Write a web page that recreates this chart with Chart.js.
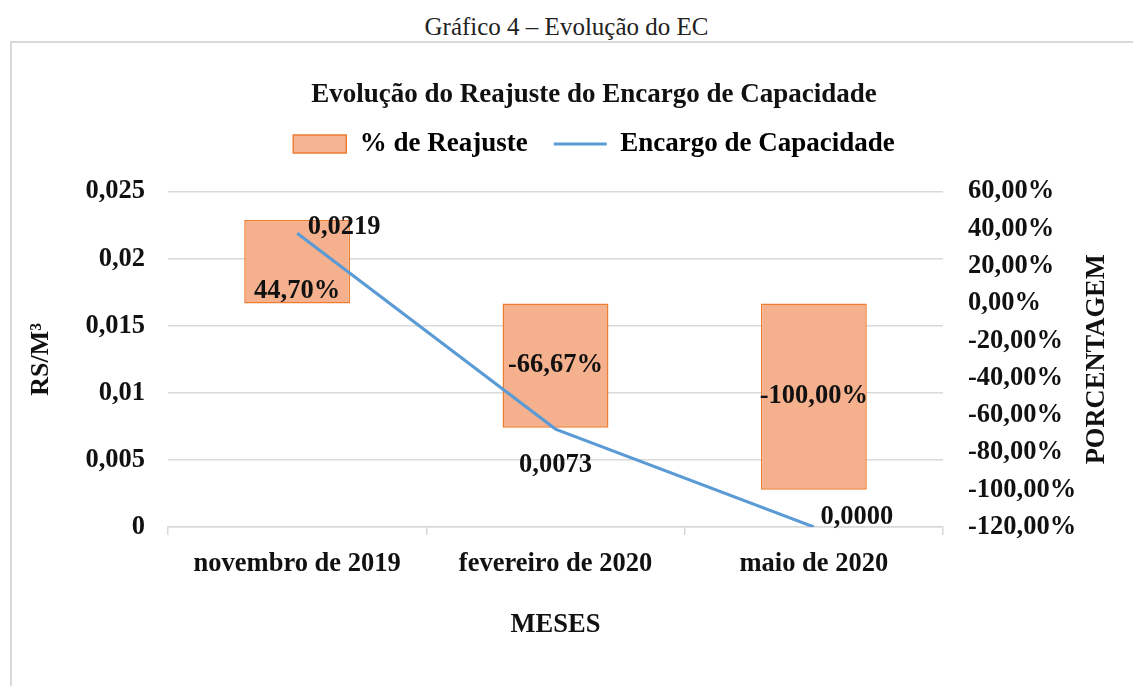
<!DOCTYPE html>
<html>
<head>
<meta charset="utf-8">
<script src="https://cdn.jsdelivr.net/npm/chart.js@4/dist/chart.umd.min.js"></script>
<style>
  html, body { margin: 0; padding: 0; background: #fff; }
  body { width: 1133px; height: 686px; overflow: hidden; position: relative; font-family: "Liberation Serif", "Times New Roman", serif; }
  #caption { position: absolute; left: 0; top: 13px; width: 1133px; text-align: center; font-size: 25px; line-height: 28px; color: #222; }
  #box { position: absolute; left: 10px; top: 41px; width: 1140px; height: 660px; border-top: 2px solid #d9d9d9; border-left: 2px solid #d9d9d9; }
  #wrap { position: absolute; left: 11px; top: 43px; width: 1122px; height: 643px; }
</style>
</head>
<body>
<div id="caption">Gráfico 4 – Evolução do EC</div>
<div id="box"></div>
<div id="wrap"><canvas id="ecChart"></canvas></div>
<script>
// dados do gráfico
var meses = ['novembro de 2019', 'fevereiro de 2020', 'maio de 2020'];
var reajuste = [44.70, -66.67, -100.00];      // % de Reajuste
var encargo = [0.0219, 0.0073, 0.0000];        // Encargo de Capacidade (R$/m³)
var ticksEncargo = [0, 0.005, 0.01, 0.015, 0.02, 0.025];
var ticksPct = [-120, -100, -80, -60, -40, -20, 0, 20, 40, 60];

(function(){
  var FONT = '"Liberation Serif", "Times New Roman", serif';
  var SZ = 26.5;
  var PAD_LEFT = 44; // desloca título e legenda um pouco para a direita
  var el = document.getElementById('ecChart');
  if (!el || typeof Chart === 'undefined') { return; }

  function fmtNum(v, d){ return v.toFixed(d).replace('.', ','); }
  function fmtLeft(v){
    if (v === 0) return '0';
    return String(Math.round(v * 1000) / 1000).replace('.', ',');
  }

  function barFill(ctx){
    var chart = ctx.chart;
    var a = chart.chartArea;
    if (!a) return '#f5b08e';
    var el = ctx.element;
    var y0 = el ? Math.min(el.y, el.base) : a.top;
    var y1 = el ? Math.max(el.y, el.base) : a.bottom;
    if (!isFinite(y0) || !isFinite(y1) || y1 - y0 < 1) return '#f5b08e';
    var g = chart.ctx.createLinearGradient(0, y0, 0, y1);
    g.addColorStop(0, '#f6c3aa');
    g.addColorStop(1, '#f4a27a');
    return g;
  }

  // rótulos de dados e título do eixo direito
  var labelsPlugin = {
    id: 'ecLabels',
    afterDatasetsDraw: function(chart, args, opts){
      var ctx = chart.ctx;
      ctx.save();
      ctx.fillStyle = '#111';
      ctx.font = 'bold ' + opts.size + 'px ' + FONT;
      ctx.textBaseline = 'middle';
      ctx.textAlign = 'center';
      chart.getDatasetMeta(0).data.forEach(function(bar, i){
        var yc = opts.barAnchor[i] === 'base' ? bar.base - 12 : (bar.y + bar.base) / 2;
        ctx.fillText(fmtNum(reajuste[i], 2) + '%', bar.x, yc);
      });
      chart.getDatasetMeta(1).data.forEach(function(pt, i){
        var off = opts.lineOffset[i];
        ctx.fillText(fmtNum(encargo[i], 4), pt.x + off[0], pt.y + off[1]);
      });
      ctx.restore();
    },
    afterDraw: function(chart, args, opts){
      var s = chart.scales.yPct;
      var ctx = chart.ctx;
      ctx.save();
      ctx.fillStyle = '#111';
      ctx.font = 'bold ' + opts.size + 'px ' + FONT;
      ctx.textAlign = 'center';
      ctx.textBaseline = 'middle';
      ctx.translate(s.right - 36, (s.top + s.bottom) / 2);
      ctx.rotate(-Math.PI / 2);
      ctx.fillText('PORCENTAGEM', 0, 0);
      ctx.restore();
    }
  };

  var cfg = {
    data: {
      labels: meses,
      datasets: [
        {
          type: 'bar',
          label: '% de Reajuste',
          data: reajuste,
          yAxisID: 'yPct',
          backgroundColor: barFill,
          borderColor: '#ed7d31',
          borderWidth: 1.5,
          borderSkipped: false,
          barPercentage: 0.41,
          categoryPercentage: 1,
          order: 2
        },
        {
          type: 'line',
          label: 'Encargo de Capacidade',
          data: encargo,
          yAxisID: 'yEnc',
          borderColor: '#5b9bd5',
          borderWidth: 3,
          pointRadius: 0,
          tension: 0,
          order: 1
        }
      ]
    },
    options: {
      responsive: true,
      maintainAspectRatio: false,
      animation: false,
      layout: { padding: { left: PAD_LEFT, right: 0, top: 0, bottom: 0 } },
      plugins: {
        tooltip: { enabled: false },
        title: {
          display: true,
          text: 'Evolução do Reajuste do Encargo de Capacidade',
          color: '#111',
          font: { family: FONT, size: 27, weight: 'bold' },
          padding: { top: 36, bottom: -7 }
        },
        legend: {
          display: true,
          labels: {
            color: '#111',
            font: { family: FONT, size: 27, weight: 'bold' },
            usePointStyle: true,
            pointStyleWidth: 53,
            boxHeight: 18,
            padding: 26,
            generateLabels: function(){
              return [
                { text: '% de Reajuste', fillStyle: '#f5b595', strokeStyle: '#ed7d31', lineWidth: 1.5, pointStyle: 'rect', datasetIndex: 0 },
                { text: 'Encargo de Capacidade', fillStyle: '#5b9bd5', strokeStyle: '#5b9bd5', lineWidth: 3, pointStyle: 'line', datasetIndex: 1 }
              ];
            }
          }
        },
        // espaço vazio entre a legenda e a área do gráfico
        subtitle: {
          display: true,
          text: ' ',
          weight: 500,
          font: { size: 1 },
          padding: { top: 23, bottom: 0 }
        },
        ecLabels: {
          size: SZ,
          barAnchor: ['base', 'center', 'center'],
          lineOffset: [[47, -6], [0, 36], [43, -10]]
        }
      },
      scales: {
        x: {
          offset: true,
          grid: { display: true, drawOnChartArea: false, offset: true, tickLength: 8, color: '#d9d9d9', lineWidth: 1.5 },
          border: { display: true, color: '#d9d9d9', width: 1.5 },
          ticks: { color: '#111', font: { family: FONT, size: SZ, weight: 'bold' }, padding: 13, maxRotation: 0 },
          title: { display: true, text: 'MESES', color: '#111', font: { family: FONT, size: SZ, weight: 'bold' }, padding: { top: 0, bottom: 45 } },
          afterFit: function(s){ s.height = 159; }
        },
        yEnc: {
          position: 'left',
          min: 0,
          max: 0.025,
          afterBuildTicks: function(s){ s.ticks = ticksEncargo.map(function(v){ return { value: v }; }); },
          grid: { color: '#d9d9d9', lineWidth: 1.5, drawTicks: false },
          border: { display: false },
          ticks: { color: '#111', font: { family: FONT, size: SZ, weight: 'bold' }, padding: 23, callback: function(v){ return fmtLeft(v); } },
          title: { display: true, text: 'RS/M³', color: '#111', font: { family: FONT, size: 26, weight: 'bold' }, padding: { top: 15 - PAD_LEFT, bottom: 0 } },
          afterFit: function(s){ s.width = 157 - PAD_LEFT; }
        },
        yPct: {
          position: 'right',
          min: -120,
          max: 60,
          afterBuildTicks: function(s){ s.ticks = ticksPct.map(function(v){ return { value: v }; }); },
          grid: { display: false, drawTicks: false },
          border: { display: false },
          ticks: { color: '#111', font: { family: FONT, size: SZ, weight: 'bold' }, padding: 25, callback: function(v){ return fmtNum(v, 2) + '%'; } },
          afterFit: function(s){ s.width = 190; }
        }
      }
    },
    plugins: [labelsPlugin]
  };

  new Chart(el.getContext('2d'), cfg);
})();
</script>
</body>
</html>
